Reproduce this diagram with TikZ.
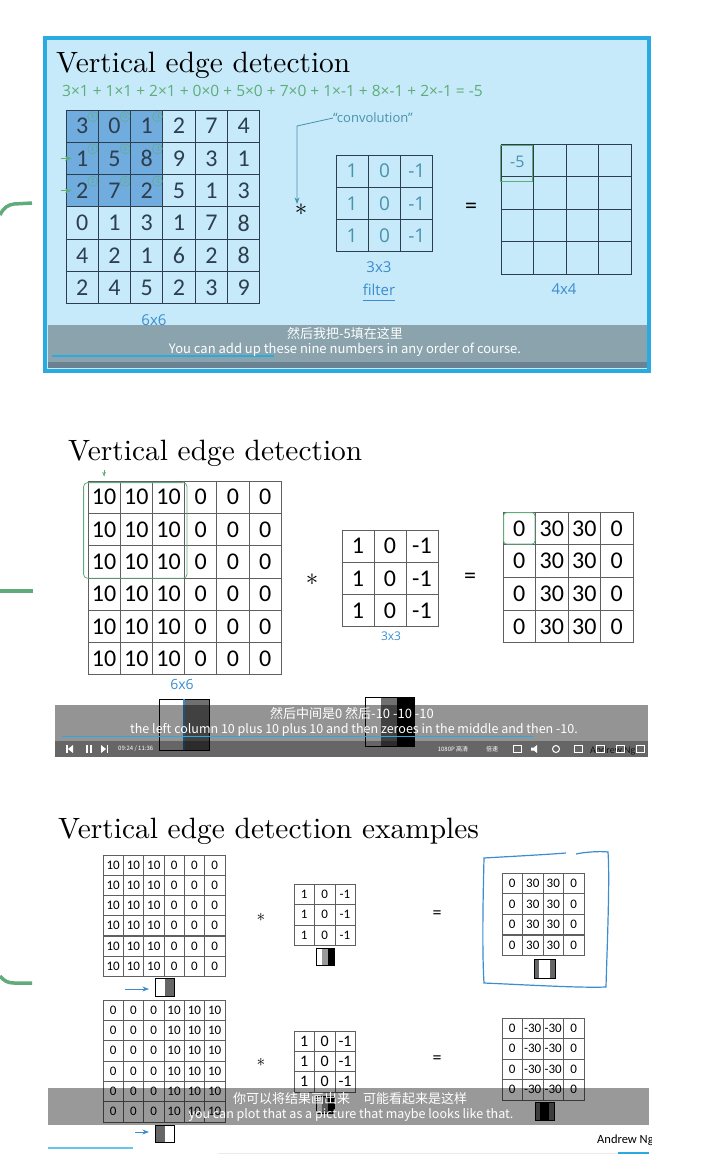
\documentclass[tikz,border=0pt]{standalone}
\usepackage{fontspec}
\setsansfont{Carlito}
\newfontfamily\cjk{Noto Sans CJK SC}
\newfontfamily\hand{Open Sans}
\newfontfamily\slide{lmroman10-regular.otf}
\usetikzlibrary{arrows.meta,positioning}
\definecolor{panelblue}{RGB}{41,171,226}
\definecolor{panelfill}{RGB}{198,234,249}
\definecolor{hilite}{RGB}{112,172,222}
\definecolor{inkA}{RGB}{45,62,78}
\definecolor{handgreen}{RGB}{95,172,122}
\definecolor{handblue}{RGB}{60,140,208}
\definecolor{handteal}{RGB}{72,145,175}
\definecolor{gridline}{RGB}{95,95,95}
\definecolor{midgray}{RGB}{112,112,112}

\begin{document}
\begin{tikzpicture}[x=1pt,y=-1pt,>=Stealth,
 heading/.style={anchor=base west,inner sep=0,font=\slide\fontsize{29.4}{30}\selectfont},
 bigcell/.style={draw=inkA,line width=0.9pt,minimum size=32.3pt,inner sep=0,text=inkA,font=\sffamily\fontsize{24}{24}\selectfont},
 numcell/.style={draw=gridline,line width=0.8pt,minimum width=32.2pt,minimum height=32.3pt,inner sep=0,font=\sffamily\fontsize{24}{24}\selectfont},
 smallcell/.style={draw=gridline,line width=0.6pt,minimum size=20.3pt,inner sep=0,font=\sffamily\fontsize{13}{13}\selectfont},
 coef/.style={circle,draw=handgreen,text=handgreen,inner sep=0,minimum size=10pt,font=\sffamily\fontsize{7}{7}\selectfont},
 ink/.style={inner sep=0,text=handblue,font=\hand\fontsize{15}{15}\selectfont},
 op/.style={inner sep=0,font=\sffamily\fontsize{24}{24}\selectfont},
 subline/.style={inner sep=0,text=white,font=\cjk\fontsize{13}{13}\selectfont},
 ctrl/.style={inner sep=0,text=white,font=\cjk\fontsize{6}{6}\selectfont},
 bar/.style={fill=black,opacity=0.4},
 stripe/.style={draw=black,line width=0.6pt},
 bracket/.style={draw=handgreen,line width=3.5pt}]
\useasboundingbox (0,0) rectangle (701,1162);

% left brackets
\draw[bracket] (0,215) .. controls (4,207) and (8,205) .. (14,204) -- (32,203);
\draw[bracket] (0,591) -- (33,591);
\draw[bracket] (0,976) .. controls (4,981) and (8,983) .. (14,983) -- (32,983);

% ---- first slide
\fill[panelfill] (45,38) rectangle (649,371);
\node[heading] (tit1) at (56,72) {Vertical edge detection};
\node[ink,anchor=west,text=handgreen,font=\hand\fontsize{15.5}{15.5}\selectfont] (eqn) at (62,91) {3×1 + 1×1 + 2×1 + 0×0 + 5×0 + 7×0 + 1×-1 + 8×-1 + 2×-1 = -5};
\fill[hilite] (66,110) rectangle ++(96.9,96.9);
\foreach \r [count=\i] in {{3,0,1,2,7,4},{1,5,8,9,3,1},{2,7,2,5,1,3},{0,1,3,1,7,8},{4,2,1,6,2,8},{2,4,5,2,3,9}}
  \foreach \v [count=\j] in \r
    \node[bigcell] (a\i\j) at ({66+32.3*(\j-0.5)},{110+32.3*(\i-0.5)}) {\v};
\foreach \i in {1,2,3}
  \foreach \c [count=\j] in {1,0,-1}
    \node[coef] (k\i\j) at ([xshift=-6pt,yshift=-7pt]a\i\j.north east) {\c};
\foreach \i in {2,3}
  \draw[handgreen,thick,->] ([xshift=-5pt]a\i1.west) -- ([xshift=6pt]a\i1.west);
\node[ink] (s66) at (154,320) {6x6};

\node[ink,text=handteal,font=\hand\fontsize{13}{13}\selectfont] (conv) at (373,118) {“convolution”};
\node[op] (sa) at (301,210) {$\ast$};
\draw[handteal,thick,->] (conv.west) -- ++(-36,8) coordinate (bend) -- (bend |- sa.north);
\foreach \i in {1,2,3}
  \foreach \v [count=\j] in {1,0,-1}
    \node[bigcell,text=handteal,font=\hand\fontsize{19}{19}\selectfont] (fa\i\j) at ({336+32.3*(\j-0.5)},{155+32.3*(\i-0.5)}) {\v};
\node[ink] (s33) at (379,267) {3x3};
\node[ink] (filt) at (379,290) {filter};
\draw[handblue,thick] ([yshift=-4pt]filt.south west) -- ([yshift=-4pt]filt.south east);
\node[op] (qa) at (471,208) {=};
\foreach \i in {1,...,4}
  \foreach \j in {1,...,4}
    \node[bigcell,minimum size=32.5pt] (oa\i\j) at ({501+32.5*(\j-0.5)},{144+32.5*(\i-0.5)}) {};
\draw[handgreen,thick] ([shift={(0pt,-2pt)}]oa11.north west) rectangle ([shift={(-2pt,-4pt)}]oa11.south east);
\node[ink,text=handteal,font=\hand\fontsize{16}{16}\selectfont] (m5) at ([yshift=-2pt]oa11) {-5};
\node[ink] (s44) at (564,289) {4x4};

\fill[bar,opacity=0.3] (48,325) rectangle (647,362);
\fill[inkA,opacity=0.6] (48,362) rectangle (647,368);
\draw[panelblue,line width=1.2pt] (52,356) -- (274,356);
\node[subline] (cap1a) at (345,334) {然后我把-5填在这里};
\node[subline] (cap1b) at (345,350) {You can add up these nine numbers in any order of course.};
\draw[panelblue,line width=4pt] (45,38) rectangle (649,371);

% ---- second slide
\node[heading] (tit2) at (68,460) {Vertical edge detection};
\foreach \i in {1,...,6}
  \foreach \v [count=\j] in {10,10,10,0,0,0}
    \node[numcell] (b\i\j) at ({88+32.2*(\j-0.5)},{481+32.3*(\i-0.5)}) {\v};
\draw[handgreen,thick,rounded corners=4pt] ([xshift=-4pt,yshift=-2pt]b11.north west) rectangle ([xshift=2pt]b33.south east);
\draw[handgreen,->] ([yshift=11pt]b11.north) -- ([yshift=4pt]b11.north);
\node[ink,font=\hand\fontsize{14}{14}\selectfont] (s66b) at (182,684) {6x6};
\node[op] (sb) at (312,580) {$\ast$};
\foreach \i in {1,2,3}
  \foreach \v [count=\j] in {1,0,-1}
    \node[numcell,minimum width=32pt] (fb\i\j) at ({342+32*(\j-0.5)},{530+32.2*(\i-0.5)}) {\v};
\node[ink,font=\hand\fontsize{12}{12}\selectfont] (s33b) at (391,636) {3x3};
\node[op] (qb) at (470,578) {=};
\foreach \i in {1,...,4}
  \foreach \v [count=\j] in {0,30,30,0}
    \node[numcell,minimum width=32.5pt,minimum height=32.7pt] (ob\i\j) at ({503+32.5*(\j-0.5)},{512+32.7*(\i-0.5)}) {\v};
\draw[handgreen,thick,rounded corners=3pt] ([xshift=1pt,yshift=-1pt]ob11.north west) rectangle ([xshift=-1pt,yshift=1pt]ob11.south east);

% small pictures under the player bar
\fill[white] (159,699) rectangle (184,750);
\fill[midgray] (184,699) rectangle (209,750);
\draw[stripe] (159,699) rectangle (209,750);
\draw[handblue,line width=1.5pt] (184,699) -- (184,750);
\fill[white] (365,697) rectangle (381,746);
\fill[midgray] (381,697) rectangle (397,746);
\fill[black] (397,697) rectangle (414,746);
\draw[stripe] (365,697) rectangle (414,746);

\fill[bar,opacity=0.42] (55,705) rectangle (648,741);
\node[anchor=west,inner sep=0,font=\sffamily\fontsize{10}{10}\selectfont,text=black!80] (ang2) at (590,751) {Andrew Ng};
\fill[black,opacity=0.6] (55,741) rectangle (648,757);
\draw[panelblue,line width=1pt] (62,736) -- (534,736);
\node[subline] (cap2a) at (352,714) {然后中间是0 然后-10 -10 -10};
\node[subline,font=\cjk\fontsize{12.5}{12.5}\selectfont] (cap2b) at (354,730) {the left column 10 plus 10 plus 10 and then zeroes in the middle and then -10.};
% player controls
\fill[white] (66,745) rectangle (67.5,753);
\fill[white] (73,745) -- (68,749) -- (73,753) -- cycle;
\fill[white] (86,745) rectangle (88,753);
\fill[white] (90,745) rectangle (92,753);
\fill[white] (101,745) -- (106,749) -- (101,753) -- cycle;
\fill[white] (106.5,745) rectangle (108,753);
\node[ctrl,anchor=west,text=white!70] (clock) at (118,749) {09:24 / 11:36};
\node[ctrl] (hd) at (453,749) {1080P 高清};
\node[ctrl] (speed) at (492,749) {倍速};
\foreach \x in {517,578,600,620,640}
  \draw[white,line width=0.8pt] ({\x-4},745.5) rectangle ({\x+4},752.5);
\fill[white] (531,747.5) -- (534,747.5) -- (537,745) -- (537,753) -- (534,750.5) -- (531,750.5) -- cycle;
\draw[white,line width=1pt] (556,749) circle (3.5);

% ---- third slide
\node[heading] (tit3) at (58,838) {Vertical edge detection examples};
\foreach \i in {1,...,6}
  \foreach \v [count=\j] in {10,10,10,0,0,0}
    \node[smallcell] (c\i\j) at ({103+20.3*(\j-0.5)},{855+20.2*(\i-0.5)}) {\v};
\node[op,font=\fontsize{16}{16}\selectfont] (sc) at (261,917) {$\ast$};
\foreach \i in {1,2,3}
  \foreach \v [count=\j] in {1,0,-1}
    \node[smallcell,minimum size=20.4pt] (fc\i\j) at ({294+20.4*(\j-0.5)},{884+20.4*(\i-0.5)}) {\v};
\node[op,font=\sffamily\fontsize{18}{18}\selectfont] (qc) at (437,915) {=};
\foreach \i in {1,...,4}
  \foreach \v [count=\j] in {0,30,30,0}
    \node[smallcell,minimum size=20.5pt] (oc\i\j) at ({502+20.5*(\j-0.5)},{873+20.6*(\i-0.5)}) {\v};
\draw[handblue,line width=1.2pt] (566,853) .. controls (540,855) and (500,857) .. (484,858) .. controls (483,900) and (482,950) .. (484,983) .. controls (530,985) and (580,988) .. (606,987) .. controls (607,950) and (610,880) .. (608,852) .. controls (600,851) and (585,852) .. (576,854);
% stripe pictures
\fill[white] (316,948) rectangle (322,965);
\fill[black!40] (322,948) rectangle (328,965);
\fill[black] (328,948) rectangle (334,965);
\draw[stripe] (316,948) rectangle (334,965);
\fill[black!60] (534,959) rectangle (539,978);
\fill[black!60] (550,959) rectangle (555,978);
\draw[stripe] (534,959) rectangle (555,978);
\fill[white] (155,978) rectangle (165,996);
\fill[black!60] (165,978) rectangle (174,996);
\draw[stripe] (155,978) rectangle (174,996);
\coordinate (ac) at (125,989);
\draw[handblue,thick,->] (ac) -- ++(24,0);

\foreach \i in {1,...,6}
  \foreach \v [count=\j] in {0,0,0,10,10,10}
    \node[smallcell] (d\i\j) at ({103+20.3*(\j-0.5)},{1000+20.3*(\i-0.5)}) {\v};
\node[op,font=\fontsize{16}{16}\selectfont] (sd) at (261,1062) {$\ast$};
\foreach \i in {1,2,3}
  \foreach \v [count=\j] in {1,0,-1}
    \node[smallcell,minimum size=20.4pt,font=\sffamily\fontsize{16}{16}\selectfont] (fd\i\j) at ({294+20.4*(\j-0.5)},{1031+20.3*(\i-0.5)}) {\v};
\node[op,font=\sffamily\fontsize{18}{18}\selectfont] (qd) at (437,1060) {=};
\foreach \i in {1,...,4}
  \foreach \v [count=\j] in {0,-30,-30,0}
    \node[smallcell,minimum size=20.5pt] (od\i\j) at ({502+20.5*(\j-0.5)},{1018+20.5*(\i-0.5)}) {\v};
\fill[white] (316,1096) rectangle (322,1113);
\fill[black!40] (322,1096) rectangle (328,1113);
\fill[black] (328,1096) rectangle (334,1113);
\draw[stripe] (316,1096) rectangle (334,1113);
\fill[black!60] (535,1102) rectangle (540,1120);
\fill[black] (540,1102) rectangle (549,1120);
\fill[black!60] (549,1102) rectangle (554,1120);
\draw[stripe] (535,1102) rectangle (554,1120);

\fill[bar] (48,1088) rectangle (649,1125);
\node[subline] (cap3a) at (350,1099) {你可以将结果画出来\quad 可能看起来是这样};
\node[subline,font=\cjk\fontsize{12.5}{12.5}\selectfont] (cap3b) at (351,1115) {you can plot that as a picture that maybe looks like that.};

\fill[black!60] (155,1125) rectangle (165,1142);
\fill[white] (165,1125) rectangle (174,1142);
\draw[stripe] (155,1125) rectangle (174,1142);
\coordinate (ad) at (135,1132);
\draw[handblue,thick,->] (ad) -- ++(14,0);

\begin{scope}
\clip (590,1128) rectangle (651,1150);
\node[anchor=west,inner sep=0,font=\sffamily\fontsize{12.5}{12.5}\selectfont] (ang3) at (597,1140) {Andrew Ng};
\end{scope}
\draw[panelblue!70,line width=1.5pt] (48,1148) -- (133,1148);
\draw[black!8,line width=1pt] (218,1153) -- (618,1153);
\draw[panelblue,line width=1.5pt] (618,1153) -- (649,1153);
\end{tikzpicture}
\end{document}
